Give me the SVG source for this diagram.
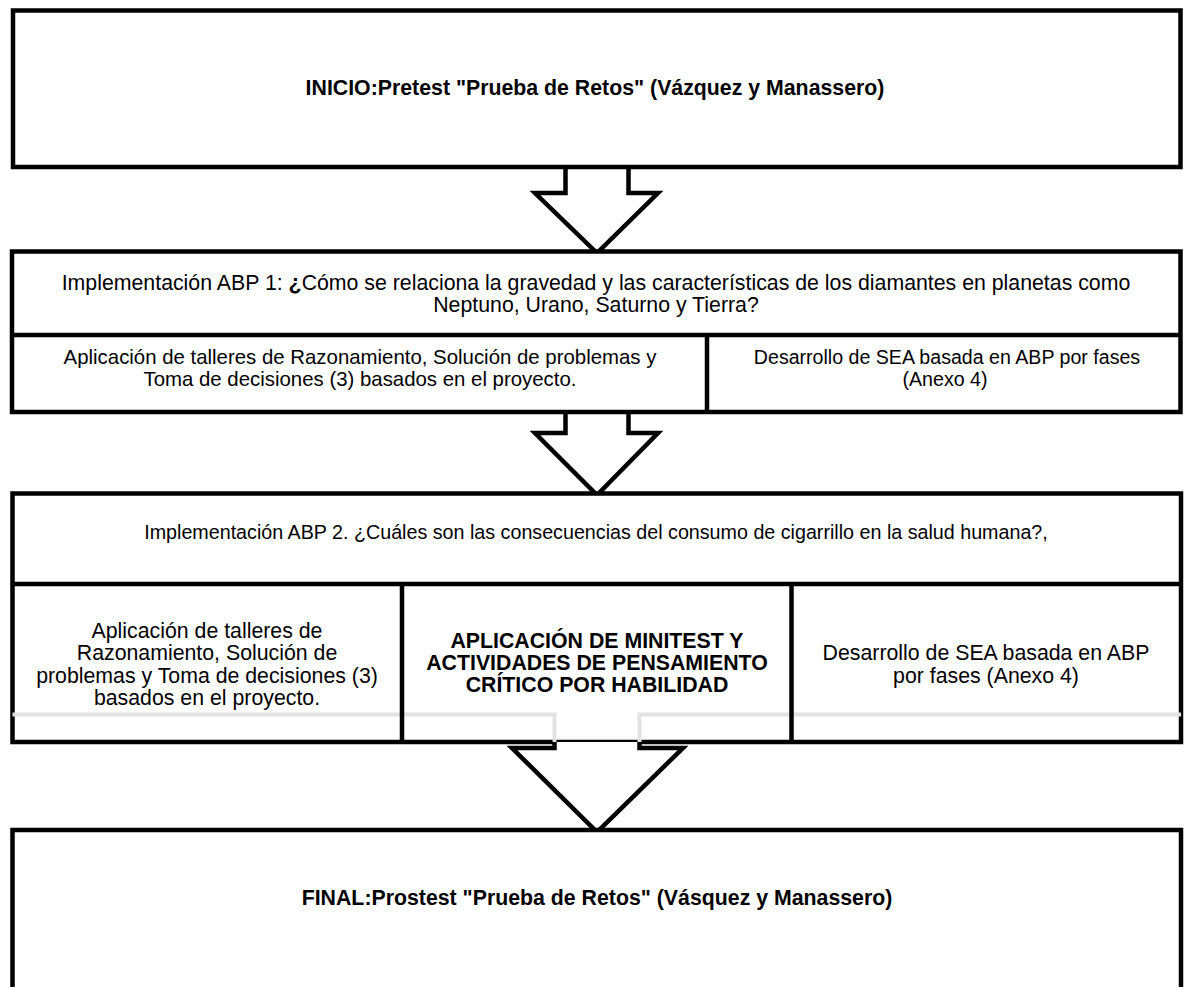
<svg xmlns="http://www.w3.org/2000/svg" width="1186" height="987" viewBox="0 0 1186 987">
  <style>
    .box { fill: #ffffff; stroke: #000000; stroke-width: 4.5; stroke-linejoin: miter; }
    .rule { fill: none; stroke: #000000; stroke-width: 4.5; }
    .arrow { fill: #ffffff; stroke: #000000; stroke-width: 4.5; stroke-linejoin: miter; }
    .ghost { fill: none; stroke: #e2e2e2; stroke-width: 4; }
    .t { font-family: "Liberation Sans", Arial, sans-serif; font-size: 21.3px; fill: #000000; text-anchor: middle; }
    .s { font-size: 19.7px; }
    .m { font-size: 20.4px; }
    .r { font-size: 19.6px; }
    .b { font-weight: bold; }
  </style>
  <rect width="1186" height="987" fill="#ffffff"/>

  <!-- flow arrows -->
  <g id="connectors">
    <path class="arrow" d="M565.5,167 V193 H535 L597,253 L658,193 H628.5 V167"/>
    <path class="arrow" d="M565.5,410 V433 H535 L597,495 L658,433 H628.5 V410"/>
  </g>

  <!-- start -->
  <g id="inicio">
    <rect class="box" x="13" y="10.5" width="1167.5" height="156.5"/>
    <text class="t b" x="595" y="95">INICIO:Pretest "Prueba de Retos" (Vázquez y Manassero)</text>
  </g>

  <!-- project 1 -->
  <g id="abp1">
    <rect class="box" x="12" y="251.5" width="1168.5" height="160.5"/>
    <line class="rule" x1="12" y1="335" x2="1180.5" y2="335"/>
    <line class="rule" x1="707" y1="335" x2="707" y2="412"/>
    <text class="t" x="596" y="290">Implementación ABP 1: <tspan class="b">¿</tspan>Cómo se relaciona la gravedad y las características de los diamantes en planetas como</text>
    <text class="t" x="596" y="312">Neptuno, Urano, Saturno y Tierra?</text>
    <text class="t m" x="360" y="364">Aplicación de talleres de Razonamiento, Solución de problemas y</text>
    <text class="t m" x="360" y="386">Toma de decisiones (3) basados en el proyecto.</text>
    <text class="t r" x="947" y="364">Desarrollo de SEA basada en ABP por fases</text>
    <text class="t r" x="945" y="386">(Anexo 4)</text>
  </g>

  <!-- project 2 -->
  <g id="abp2">
    <rect class="box" x="12.5" y="493.5" width="1168.5" height="248.5"/>
    <path class="ghost" d="M12.5,714.5 H554.5 V742 M639.5,742 V714.5 H1181"/>
    <line class="rule" x1="12.5" y1="584" x2="1181" y2="584"/>
    <line class="rule" x1="402" y1="584" x2="402" y2="742"/>
    <line class="rule" x1="791.5" y1="584" x2="791.5" y2="742"/>
    <path class="arrow" d="M554.5,742 V748 H512 L597,832 L683,748 H639.5 V742"/>
    <text class="t s" x="596" y="539">Implementación ABP 2. ¿Cuáles son las consecuencias del consumo de cigarrillo en la salud humana?,</text>
    <text class="t" x="207" y="638">Aplicación de talleres de</text>
    <text class="t" x="207" y="660">Razonamiento, Solución de</text>
    <text class="t" x="207" y="683">problemas y Toma de decisiones (3)</text>
    <text class="t" x="207" y="705">basados en el proyecto.</text>
    <text class="t b" x="597" y="648">APLICACIÓN DE MINITEST Y</text>
    <text class="t b" x="597" y="670">ACTIVIDADES DE PENSAMIENTO</text>
    <text class="t b" x="597" y="692">CRÍTICO POR HABILIDAD</text>
    <text class="t" x="986" y="660">Desarrollo de SEA basada en ABP</text>
    <text class="t" x="986" y="683">por fases (Anexo 4)</text>
  </g>

  <!-- end -->
  <g id="final">
    <rect class="box" x="12.5" y="830" width="1168.5" height="200"/>
    <text class="t b" x="597" y="905">FINAL:Prostest "Prueba de Retos" (Vásquez y Manassero)</text>
  </g>
</svg>
